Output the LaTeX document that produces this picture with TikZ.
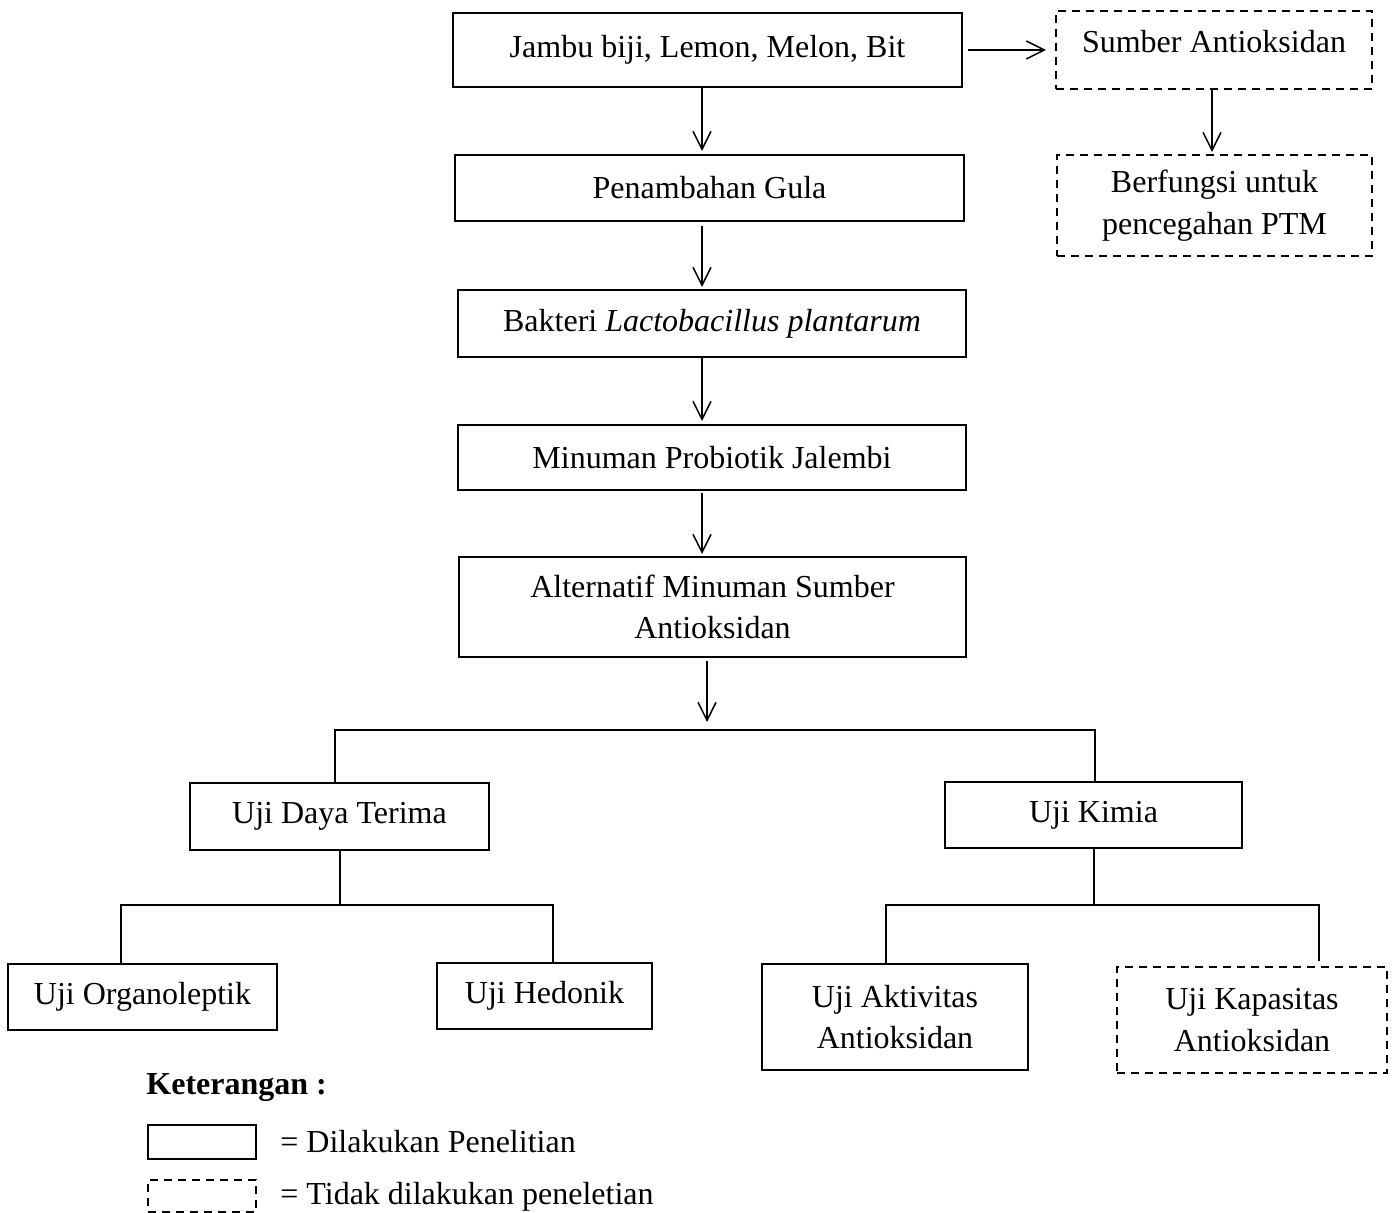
\documentclass[tikz,border=0pt]{standalone}
\usepackage{fontspec}
\setmainfont{Liberation Serif}
\usetikzlibrary{arrows.meta}
\tikzset{
  box/.style={draw,line width=1pt,align=center,inner sep=0pt},
  dbox/.style={box,dash pattern=on 4pt off 3pt},
  arr/.style={-{Straight Barb[length=9pt,width=9pt]},line width=0.75pt,shorten >=1pt},
  cab/.style={line width=1pt}
}
\begin{document}
\begin{tikzpicture}[x=0.5pt,y=-0.5pt,font=\fontsize{16}{20.75}\selectfont]
\useasboundingbox (0,0) rectangle (1393,1213);
% alur utama
\node[box,minimum width=254.5pt,minimum height=37pt] (buah) at (707.5,50) {Jambu biji, Lemon, Melon, Bit};
\node[box,minimum width=254.5pt,minimum height=33pt] (gula) at (709.5,188) {Penambahan Gula};
\node[box,minimum width=254pt,minimum height=33.5pt] (bakteri) at (712,323.5) {Bakteri \textit{Lactobacillus plantarum}};
\node[box,minimum width=254pt,minimum height=32.5pt] (minuman) at (712,457.5) {Minuman Probiotik Jalembi};
\node[box,minimum width=253.5pt,minimum height=50pt] (alt) at (712.5,607) {Alternatif Minuman Sumber\\Antioksidan};
% kanan atas
\node[dbox,anchor=north,minimum width=158pt,text height=21pt,text depth=18pt] (sumber) at (1214,10) {Sumber Antioksidan};
\node[dbox,minimum width=157.5pt,minimum height=50.5pt] (fungsi) at (1214.5,205.5) {Berfungsi untuk\\pencegahan PTM};
% uji
\node[box,minimum width=149.5pt,minimum height=33.5pt] (daya) at (339.5,816.5) {Uji Daya Terima};
\node[box,minimum width=148.5pt,minimum height=33pt] (kimia) at (1093.5,815) {Uji Kimia};
\node[box,minimum width=134.5pt,minimum height=33pt] (organo) at (142.5,997) {Uji Organoleptik};
\node[box,minimum width=107.5pt,minimum height=33pt] (hedonik) at (544.5,996) {Uji Hedonik};
\node[box,minimum width=133pt,minimum height=53pt] (aktiv) at (895,1017) {Uji Aktivitas\\Antioksidan};
\node[dbox,minimum width=135pt,minimum height=53pt] (kapas) at (1252,1020) {Uji Kapasitas\\Antioksidan};
% keterangan
\node[anchor=west,inner sep=0pt,font=\fontsize{16}{20.75}\selectfont\bfseries] (ket) at (146,1088) {Keterangan :};
\node[box,minimum width=54pt,minimum height=17pt] (lg1) at (202,1142) {};
\node[dbox,minimum width=54pt,minimum height=16pt] (lg2) at (202,1196) {};
\node[anchor=west,inner sep=0pt] (lt1) at (280,1142) {= Dilakukan Penelitian};
\node[anchor=west,inner sep=0pt] (lt2) at (280,1197) {= Tidak dilakukan peneletian};

% panah
\coordinate (jalur) at (702,0);
\draw[arr,shorten >=1.5pt] (buah.south -| jalur) -- (gula.north -| jalur);
\draw[arr,shorten <=2pt] (gula.south -| jalur) -- (bakteri.north -| jalur);
\draw[arr,shorten >=1.5pt] (bakteri.south -| jalur) -- (minuman.north -| jalur);
\draw[arr,shorten <=1pt] (minuman.south -| jalur) -- (alt.north -| jalur);
\coordinate (f1) at (707,730);
\draw[arr,shorten <=1.5pt,shorten >=4pt] (alt.south -| f1) -- (f1);
\draw[arr,shorten <=2.5pt,shorten >=4.5pt] (buah.east) -- (buah.east -| sumber.west);
\draw[arr] ([xshift=-1pt]sumber.south) -- ([xshift=-1pt]sumber.south |- fungsi.north);

% cabang
\draw[cab] ([xshift=-2.25pt]daya.north) |- (f1) -| ([xshift=0.75pt]kimia.north);
\coordinate (f2) at (338,905);
\draw[cab] (daya.south) -- (daya.south |- f2);
\draw[cab] ([xshift=-10.75pt]organo.north) |- (f2) -| ([xshift=4.25pt]hedonik.north);
\coordinate (f3) at (1097,905);
\draw[cab] (kimia.south) -- (kimia.south |- f3);
\draw[cab] ([xshift=-4.5pt]aktiv.north) |- (f3) -| ([xshift=33.5pt,yshift=2.5pt]kapas.north);
\end{tikzpicture}
\end{document}
